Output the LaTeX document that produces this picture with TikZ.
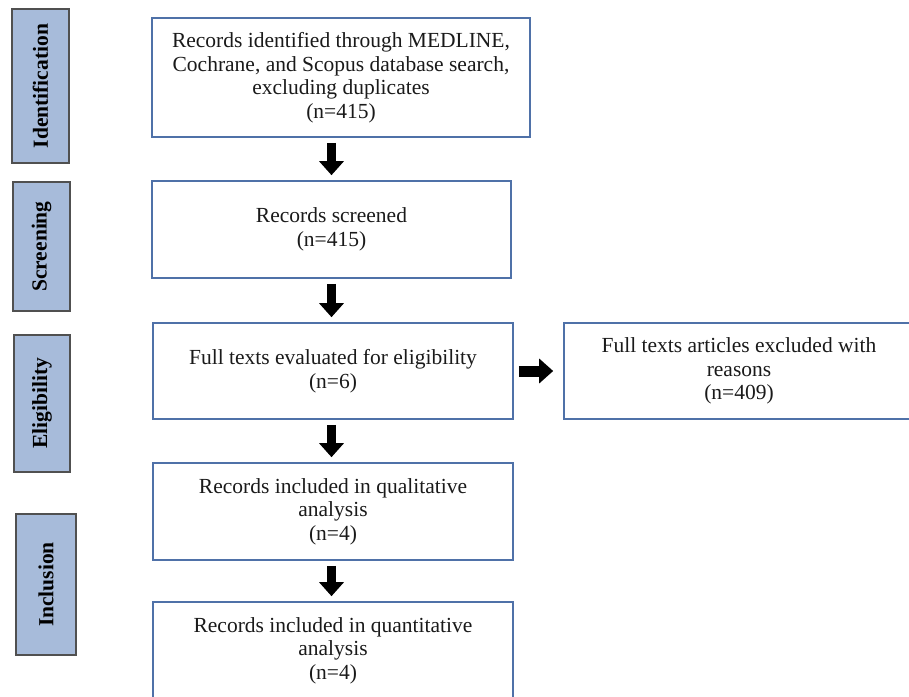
\documentclass[tikz,border=0pt]{standalone}
\usepackage{fontspec}
\setmainfont{Liberation Serif}
\usepackage{tikz}
\usetikzlibrary{arrows.meta}
\usetikzlibrary{calc}

\definecolor{stage_fill}{HTML}{A7BBDA}
\definecolor{stage_border}{HTML}{505050}
\definecolor{box_border}{HTML}{4F71A8}
\definecolor{box_text}{HTML}{1A1A1A}

\begin{document}
\begin{tikzpicture}[x=1pt, y=-1pt,
        stage_style/.style={draw=stage_border, line width=1.3pt, fill=stage_fill, rotate=90,
            inner sep=0pt, font=\fontsize{21.5}{23.5}\selectfont\bfseries, text=black},
        box_style/.style={draw=box_border, line width=1.6pt, fill=white, align=center,
            inner sep=0pt, font=\fontsize{21.5}{23.5}\selectfont, text=box_text},
        flow_style/.style={draw=black, line width=9pt, -{Triangle[width=24pt,length=14pt]},
            shorten <=5pt, shorten >=5pt}]

        \useasboundingbox (0,0) rectangle (909,696);
        \clip (0,0) rectangle (909,696);

        \node [stage_style, minimum width=154pt, minimum height=57pt](s_ident) at (40.5,86) {Identification};

        \node [stage_style, minimum width=129pt, minimum height=57pt](s_screen) at (41.5,246.5) {Screening};

        \node [stage_style, minimum width=137pt, minimum height=56pt](s_elig) at (42,403.5) {Eligibility};

        \node [stage_style, minimum width=141pt, minimum height=60pt](s_incl) at (46,584.5) {Inclusion};

        \node [box_style, minimum width=378pt, minimum height=119pt](b_ident) at (341,77.5)
            {Records identified through MEDLINE,\\Cochrane, and Scopus database search,\\excluding duplicates\\(n=415)};

        \node [box_style, minimum width=359pt, minimum height=97pt](b_screen) at (331.5,229.5)
            {Records screened\\(n=415)};

        \node [box_style, minimum width=360pt, minimum height=96pt](b_full) at (333,371)
            {Full texts evaluated for eligibility\\(n=6)};

        \node [box_style, minimum width=350pt, minimum height=96pt](b_excl) at (739,371)
            {Full texts articles excluded with\\reasons\\(n=409)};

        \node [box_style, minimum width=360pt, minimum height=97pt](b_qual) at (333,511.5)
            {Records included in qualitative\\analysis\\(n=4)};

        \node [box_style, minimum width=360pt, minimum height=97pt](b_quant) at (333,650.5)
            {Records included in quantitative\\analysis\\(n=4)};

        \draw [flow_style] (b_ident.south -| b_screen.north) -- (b_screen.north);

        \draw [flow_style] (b_screen.south) -- (b_screen.south |- b_full.north);

        \draw [flow_style] (b_full.south -| b_screen.south) -- (b_qual.north -| b_screen.south);

        \draw [flow_style] (b_qual.south -| b_screen.south) -- (b_quant.north -| b_screen.south);

        \draw [flow_style, line width=11pt, shorten >=10pt] (b_full.east) -- (b_excl.west);

        \end{tikzpicture}
\end{document}
